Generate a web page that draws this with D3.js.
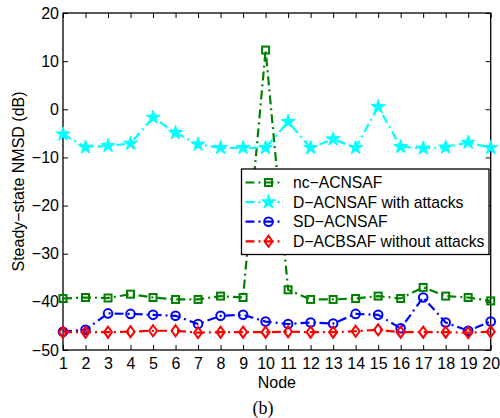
<!DOCTYPE html>
<html>
<head>
<meta charset="utf-8">
<script src="https://cdn.jsdelivr.net/npm/d3@7"></script>
<style>
  body { margin: 0; background: #fff; }
  text { font-family: "Liberation Sans", Arial, sans-serif; }
</style>
</head>
<body>
<svg id="chart"></svg>
<script>
var width = 500;
var height = 418;

var margin = { top: 13, right: 9.3, bottom: 68, left: 63 };

// Data
var nodes = [1, 2, 3, 4, 5, 6, 7, 8, 9, 10, 11, 12, 13, 14, 15, 16, 17, 18, 19, 20];
var ncACNSAF = [-39.3, -39.1, -39.2, -38.4, -39.1, -39.5, -39.5, -38.8, -39.1, 12.3,
  -37.5, -39.5, -39.5, -39.3, -38.8, -39.3, -37.0, -38.8, -39.1, -39.8];
var dACNSAFAttacks = [-5.2, -7.9, -7.6, -7.1, -1.7, -4.9, -7.3, -8.0, -8.0, -8.0,
  -2.6, -8.0, -6.2, -8.0, 0.5, -7.8, -8.1, -7.9, -6.9, -8.0];
var sdACNSAF = [-46.2, -45.8, -42.4, -42.5, -42.7, -42.9, -44.6, -42.9, -42.7, -44.1,
  -44.6, -44.3, -44.5, -42.5, -42.7, -45.5, -39.1, -44.3, -46.0, -44.1];
var dACBSAFNoAttacks = [-46.3, -46.3, -46.3, -46.2, -46.0, -46.0, -46.4, -46.3, -46.3, -46.3,
  -46.2, -46.3, -46.3, -46.1, -45.8, -46.3, -46.3, -46.3, -46.4, -46.2];
var yTicks = [-50, -40, -30, -20, -10, 0, 10, 20];

var series = [
  { name: 'nc\u2212ACNSAF', values: ncACNSAF, color: '#008000', marker: 'square' },
  { name: 'D\u2212ACNSAF with attacks', values: dACNSAFAttacks, color: '#00ffff', marker: 'star' },
  { name: 'SD\u2212ACNSAF', values: sdACNSAF, color: '#0000ff', marker: 'circle' },
  { name: 'D\u2212ACBSAF without attacks', values: dACBSAFNoAttacks, color: '#ff0000', marker: 'diamond' }
];

var svg = d3.select('#chart')
  .attr('width', width)
  .attr('height', height);

var plotW = width - margin.left - margin.right;
var plotH = height - margin.top - margin.bottom;

var x = d3.scaleLinear().domain([1, 20]).range([0, plotW]);
var y = d3.scaleLinear().domain([-50, 20]).range([plotH, 0]);

var g = svg.append('g')
  .attr('transform', 'translate(' + margin.left + ',' + margin.top + ')');

// Axes with inward ticks on all four sides
var tickLen = 5;
function styleAxis(sel) {
  sel.select('.domain').remove();
  sel.selectAll('line').attr('stroke', '#000').attr('stroke-width', 1);
  sel.selectAll('text').attr('font-size', 16).attr('fill', '#000')
    .attr('font-family', '"Liberation Sans", Arial, sans-serif');
}

g.append('g')
  .attr('transform', 'translate(0,' + plotH + ')')
  .call(d3.axisBottom(x).tickValues(nodes).tickSize(-tickLen).tickPadding(8).tickFormat(d3.format('d')))
  .call(styleAxis);

g.append('g')
  .call(d3.axisTop(x).tickValues(nodes).tickSize(-tickLen).tickFormat(''))
  .call(styleAxis);

g.append('g')
  .call(d3.axisLeft(y).tickValues(yTicks).tickSize(-tickLen).tickPadding(4)
    .tickFormat(function (d) { return d < 0 ? '\u2212' + Math.abs(d) : d; }))
  .call(styleAxis);

g.append('g')
  .attr('transform', 'translate(' + plotW + ',0)')
  .call(d3.axisRight(y).tickValues(yTicks).tickSize(-tickLen).tickFormat(''))
  .call(styleAxis);

g.append('rect')
  .attr('width', plotW)
  .attr('height', plotH)
  .attr('fill', 'none')
  .attr('stroke', '#000')
  .attr('stroke-width', 1.3);

// Markers
var starPath = d3.symbol().type(d3.symbolStar).size(62)();
function drawMarker(sel, type, color) {
  if (type === 'square') {
    sel.append('rect').attr('x', -3.5).attr('y', -3.5).attr('width', 7).attr('height', 7)
      .attr('fill', 'none').attr('stroke', color).attr('stroke-width', 2);
  } else if (type === 'star') {
    sel.append('path').attr('d', starPath).attr('fill', color).attr('stroke', color).attr('stroke-width', 1);
  } else if (type === 'circle') {
    sel.append('circle').attr('r', 4.3)
      .attr('fill', 'none').attr('stroke', color).attr('stroke-width', 2);
  } else if (type === 'diamond') {
    sel.append('path').attr('d', 'M0,-5.5L4,0L0,5.5L-4,0Z')
      .attr('fill', 'none').attr('stroke', color).attr('stroke-width', 2);
  }
}

var line = d3.line()
  .x(function (d, i) { return x(nodes[i]); })
  .y(function (d) { return y(d); });

series.forEach(function (s) {
  g.append('path')
    .datum(s.values)
    .attr('d', line)
    .attr('fill', 'none')
    .attr('stroke', s.color)
    .attr('stroke-width', 2.2)
    .attr('stroke-dasharray', '9,4,2,4');

  g.selectAll('.m-' + s.marker)
    .data(s.values)
    .enter()
    .append('g')
    .attr('class', 'm-' + s.marker)
    .attr('transform', function (d, i) { return 'translate(' + x(nodes[i]) + ',' + y(d) + ')'; })
    .each(function () { drawMarker(d3.select(this), s.marker, s.color); });
});

// Legend
var legend = svg.append('g').attr('transform', 'translate(241.5,169)');
legend.append('rect')
  .attr('width', 247.5)
  .attr('height', 85.5)
  .attr('fill', '#fff')
  .attr('stroke', '#000')
  .attr('stroke-width', 1.3);

series.forEach(function (s, i) {
  var row = legend.append('g').attr('transform', 'translate(0,' + (13.5 + i * 19.6) + ')');
  row.append('line')
    .attr('x1', 4).attr('x2', 42)
    .attr('stroke', s.color)
    .attr('stroke-width', 2.2)
    .attr('stroke-dasharray', '9,4,2,4');
  var m = row.append('g').attr('transform', 'translate(27,0)');
  drawMarker(m, s.marker, s.color);
  row.append('text')
    .attr('x', 51.5)
    .attr('y', 5.5)
    .attr('font-size', 15.7)
    .text(s.name);
});

// Axis labels
svg.append('text')
  .attr('x', margin.left + plotW / 2)
  .attr('y', 388)
  .attr('text-anchor', 'middle')
  .attr('font-size', 16)
  .text('Node');

svg.append('text')
  .attr('transform', 'translate(24,' + (margin.top + plotH / 2) + ') rotate(-90)')
  .attr('text-anchor', 'middle')
  .attr('font-size', 16)
  .text('Steady\u2212state NMSD (dB)');

svg.append('text')
  .attr('x', 263)
  .attr('y', 414)
  .attr('text-anchor', 'middle')
  .attr('font-size', 18)
  .style('font-family', '"Liberation Serif", "Times New Roman", serif')
  .text('(b)');
</script>
</body>
</html>
